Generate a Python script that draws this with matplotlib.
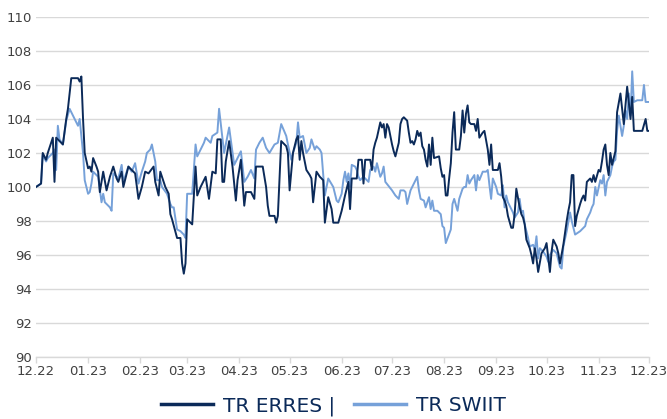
import matplotlib
matplotlib.use("Agg")
import matplotlib.pyplot as plt
import matplotlib.dates as mdates
import pandas as pd

# day offsets counted from 1 Dec 2022
erres_day = [0, 3, 4, 6, 7, 10, 11, 12, 14, 16, 18, 19, 21, 25, 26, 27, 28, 29, 31, 32,
             33, 34, 36, 37, 38, 40, 42, 44, 46, 48, 49, 51, 52, 55, 58, 59, 61, 63, 65, 67,
             70, 71, 73, 74, 76, 77, 79, 80, 81, 84, 86, 87, 88, 89, 90, 93, 95, 96, 98, 101,
             103, 105, 107, 108, 110, 111, 112, 113, 115, 117, 119, 120, 122, 124, 125, 128, 130, 131, 135, 137,
             138, 139, 142, 143, 144, 146, 149, 150, 151, 153, 155, 156, 157, 158, 159, 161, 163, 164, 165, 167,
             169, 171, 172, 174, 176, 177, 180, 182, 184, 186, 187, 188, 191, 192, 194, 195, 196, 199, 200, 201,
             202, 203, 205, 206, 207, 208, 209, 210, 212, 213, 214, 216, 217, 218, 219, 221, 222, 223, 224, 225,
             226, 227, 228, 229, 230, 231, 232, 233, 234, 235, 236, 237, 240, 241, 242, 243, 244, 245, 246, 247,
             248, 249, 250, 252, 253, 254, 255, 256, 257, 258, 259, 261, 262, 263, 264, 266, 267, 269, 270, 271,
             272, 275, 276, 277, 278, 279, 280, 281, 283, 284, 285, 286, 288, 289, 290, 291, 292, 294, 295, 296,
             297, 298, 299, 301, 303, 304, 306, 307, 308, 310, 311, 312, 314, 316, 317, 318, 319, 320, 321, 322,
             324, 325, 326, 327, 328, 330, 331, 332, 333, 335, 336, 337, 338, 339, 340, 341, 342, 343, 345, 346,
             348, 350, 352, 354, 355, 356, 361, 363, 364, 365]
erres_val = [100.0, 100.2, 102.0, 101.6, 102.0, 102.9, 100.3, 102.9, 102.7, 102.5, 104.0, 104.6, 106.4, 106.4, 106.2, 106.5, 104.0, 102.0, 101.1, 101.2,
             100.9, 101.7, 101.2, 100.9, 99.7, 100.9, 99.8, 100.6, 101.2, 100.5, 100.3, 100.9, 100.0, 101.2, 100.9, 100.8, 99.3, 100.0, 100.9, 100.8,
             101.2, 100.3, 99.5, 100.9, 100.3, 100.0, 99.6, 98.4, 98.1, 97.0, 97.0, 95.5, 94.9, 95.5, 98.1, 97.8, 101.2, 99.5, 100.0, 100.6,
             99.3, 100.9, 100.8, 102.8, 102.8, 100.3, 100.3, 101.5, 102.7, 101.2, 99.2, 100.4, 101.6, 98.9, 99.7, 99.7, 99.3, 101.2, 101.2, 100.0,
             98.9, 98.3, 98.3, 97.9, 98.3, 102.7, 102.4, 102.0, 99.8, 102.0, 102.8, 103.0, 101.6, 102.7, 102.0, 101.0, 100.7, 100.5, 99.1, 100.9,
             100.6, 100.4, 97.9, 99.4, 98.7, 97.9, 97.9, 98.6, 99.5, 100.3, 98.7, 100.5, 100.5, 101.6, 101.6, 100.2, 101.6, 101.6, 101.0, 102.2,
             102.6, 102.9, 103.8, 103.5, 103.7, 102.9, 103.7, 103.5, 102.5, 102.1, 101.8, 102.6, 103.7, 104.0, 104.1, 103.9, 103.2, 102.6, 102.7, 102.5,
             102.8, 103.3, 103.0, 103.2, 102.4, 102.2, 101.6, 101.2, 102.5, 101.3, 102.9, 101.7, 101.8, 101.1, 100.6, 100.7, 99.5, 99.5, 100.5, 101.4,
             103.2, 104.4, 102.2, 102.2, 103.0, 104.5, 103.2, 104.3, 104.8, 103.8, 103.7, 103.7, 103.3, 104.0, 102.9, 103.2, 103.3, 102.2, 101.3, 102.5,
             101.0, 101.0, 101.4, 100.6, 99.4, 99.2, 98.9, 98.3, 97.6, 97.6, 98.4, 99.9, 98.8, 98.4, 98.2, 97.8, 96.9, 96.4, 96.0, 95.5,
             96.4, 95.8, 95.0, 96.1, 96.4, 96.7, 95.0, 96.2, 96.9, 96.5, 96.1, 95.5, 96.6, 98.0, 98.6, 99.1, 100.7, 100.7, 97.7, 98.3,
             99.0, 99.3, 99.5, 99.2, 100.3, 100.5, 100.3, 100.7, 100.3, 101.0, 100.9, 101.5, 102.2, 102.5, 101.3, 100.7, 102.0, 101.3, 102.1, 104.4,
             105.5, 103.7, 105.9, 104.0, 105.3, 103.3, 103.3, 104.0, 103.3, 103.3]

swiit_day = [0, 3, 4, 6, 7, 10, 11, 12, 13, 14, 16, 18, 20, 22, 24, 25, 26, 28, 29, 31,
             32, 33, 34, 36, 37, 39, 40, 41, 44, 45, 46, 48, 49, 51, 52, 55, 57, 59, 61, 63,
             65, 66, 68, 69, 71, 72, 74, 75, 78, 80, 81, 82, 84, 86, 88, 89, 90, 93, 95, 96,
             98, 100, 101, 104, 105, 108, 109, 112, 113, 115, 117, 118, 120, 122, 124, 126, 128, 130, 131, 133,
             135, 137, 139, 142, 144, 146, 149, 150, 152, 153, 155, 156, 157, 159, 161, 163, 164, 166, 167, 169,
             170, 172, 174, 177, 179, 180, 182, 183, 184, 185, 186, 187, 188, 190, 191, 192, 193, 195, 196, 198,
             199, 201, 202, 203, 205, 206, 207, 208, 212, 214, 216, 217, 219, 220, 221, 223, 224, 225, 227, 228,
             229, 231, 232, 234, 235, 236, 237, 239, 241, 242, 243, 244, 247, 248, 249, 251, 252, 254, 255, 256,
             257, 258, 259, 261, 262, 263, 264, 266, 268, 269, 270, 271, 272, 274, 275, 277, 278, 279, 280, 281,
             283, 284, 285, 287, 288, 289, 290, 291, 293, 294, 296, 297, 298, 299, 300, 302, 304, 305, 306, 308,
             310, 311, 312, 313, 314, 316, 318, 319, 320, 321, 324, 326, 327, 328, 330, 331, 332, 333, 334, 336,
             337, 338, 339, 340, 342, 343, 344, 345, 346, 347, 349, 350, 351, 352, 353, 354, 355, 356, 358, 361,
             362, 363, 365]
swiit_val = [100.0, 100.2, 101.9, 101.5, 101.7, 102.0, 102.2, 101.0, 103.6, 102.8, 102.5, 103.9, 104.6, 104.2, 103.8, 103.6, 104.0, 102.0, 100.4, 99.6,
             99.7, 100.2, 100.9, 100.7, 100.6, 99.1, 99.6, 99.1, 98.8, 98.6, 100.8, 100.6, 100.5, 101.3, 100.3, 101.2, 100.9, 101.4, 100.2, 100.9,
             101.5, 102.0, 102.2, 102.5, 101.5, 100.4, 100.4, 100.0, 99.6, 99.0, 98.8, 98.8, 97.5, 97.4, 97.2, 97.0, 99.6, 99.6, 102.5, 101.8,
             102.2, 102.6, 102.9, 102.6, 103.0, 103.2, 104.6, 102.0, 102.5, 103.5, 102.0, 101.3, 101.7, 102.1, 100.3, 100.6, 101.0, 100.5, 102.2, 102.6,
             102.9, 102.3, 102.0, 102.5, 102.6, 103.7, 103.0, 102.5, 101.6, 102.0, 102.6, 103.8, 102.9, 103.0, 102.0, 102.3, 102.8, 102.2, 102.4, 102.2,
             102.0, 99.5, 100.5, 100.0, 99.2, 99.1, 99.6, 100.4, 100.9, 100.3, 100.8, 100.0, 101.3, 101.2, 101.0, 100.6, 100.4, 100.6, 100.5, 100.3,
             101.0, 101.2, 100.9, 101.4, 100.6, 100.8, 101.2, 100.3, 99.8, 99.5, 99.3, 99.8, 99.8, 99.7, 99.0, 99.8, 100.0, 100.2, 100.6, 99.8,
             99.3, 99.2, 98.8, 99.4, 98.7, 99.2, 98.6, 98.6, 98.4, 97.7, 97.6, 96.7, 97.5, 99.0, 99.3, 98.6, 99.3, 99.9, 100.0, 100.0,
             100.7, 100.2, 100.4, 100.7, 99.8, 100.7, 100.4, 100.9, 100.9, 101.0, 100.1, 99.3, 100.5, 100.0, 99.6, 99.5, 100.1, 98.8, 99.5, 99.1,
             98.7, 98.5, 98.2, 98.5, 99.3, 98.5, 98.6, 97.8, 97.0, 96.5, 96.6, 96.3, 97.1, 95.8, 96.4, 96.2, 95.9, 95.6, 96.0, 96.3,
             96.1, 95.7, 95.3, 95.2, 96.5, 97.4, 98.5, 98.0, 97.6, 97.2, 97.4, 97.6, 97.7, 98.1, 98.5, 98.8, 99.0, 100.0, 99.5, 100.4,
             100.2, 100.7, 99.5, 100.3, 100.7, 101.2, 101.5, 101.6, 103.3, 104.2, 103.0, 103.6, 104.5, 104.0, 105.5, 104.2, 106.8, 105.0, 105.1, 105.1,
             106.0, 105.0, 105.0]

start = pd.Timestamp("2022-12-01")
erres_dates = start + pd.to_timedelta(erres_day, unit="D")
swiit_dates = start + pd.to_timedelta(swiit_day, unit="D")

navy = "#0b2a59"
light = "#76a1d9"
grid = "#d9d9d9"
label_col = "#404040"

fig = plt.figure(figsize=(6.67, 4.19), dpi=100)
ax = fig.add_axes([0.054, 0.148, 0.919, 0.8115])

ax.plot(erres_dates, erres_val, color=navy, lw=1.4, label="TR ERRES |", zorder=3)
ax.plot(swiit_dates, swiit_val, color=light, lw=1.4, label="TR SWIIT", zorder=2)

ax.set_ylim(90, 110)
ax.set_yticks(range(90, 111, 2))
ax.set_xlim(pd.Timestamp("2022-12-01"), pd.Timestamp("2023-12-01"))
ax.xaxis.set_major_locator(mdates.MonthLocator())
ax.xaxis.set_major_formatter(mdates.DateFormatter("%m.%y"))

ax.grid(axis="y", color=grid, lw=1)
ax.set_axisbelow(True)
for side in ["top", "right", "left"]:
    ax.spines[side].set_visible(False)
ax.spines["bottom"].set_color(grid)
ax.spines["bottom"].set_linewidth(1)
ax.tick_params(axis="y", length=0, pad=3, labelsize=9.5, labelcolor=label_col)
ax.tick_params(axis="x", length=4, width=1, color=grid, pad=2, labelsize=9.5, labelcolor=label_col)

leg = fig.legend(loc="lower center", bbox_to_anchor=(0.5, -0.035), ncol=2, frameon=False,
                 fontsize=14.5, handlelength=2.6, handletextpad=0.5, columnspacing=0.9)
for t in leg.get_texts():
    t.set_color(navy)
for h in leg.get_lines():
    h.set_linewidth(2.5)

fig.savefig("out.png", dpi=100)
